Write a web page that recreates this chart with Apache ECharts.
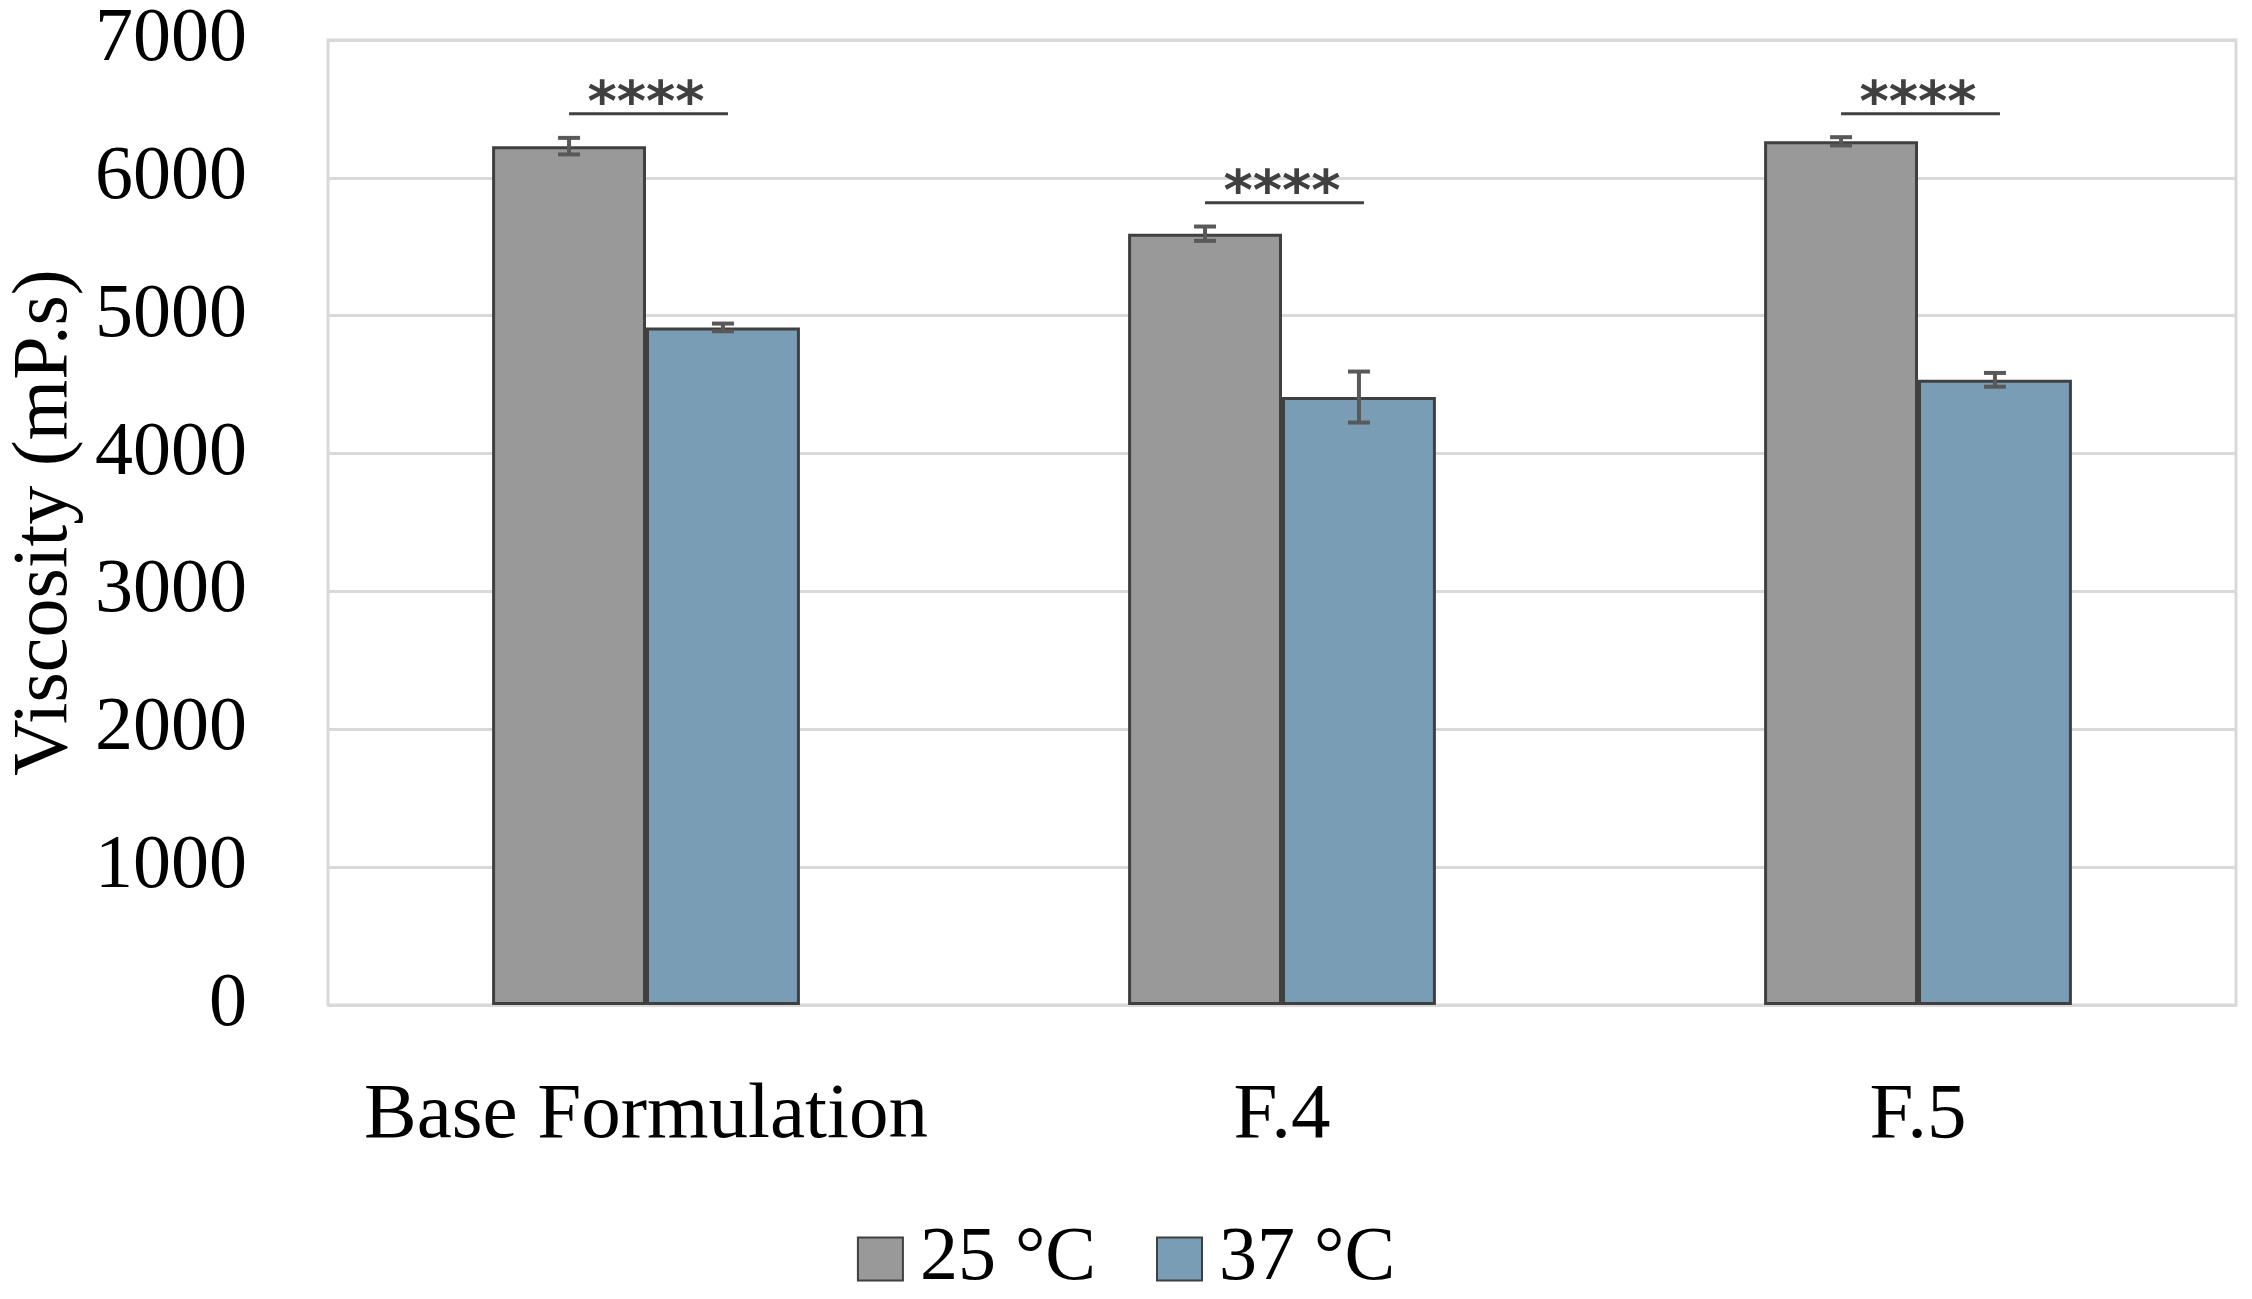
<!DOCTYPE html>
<html><head><meta charset="utf-8">
<script src="https://cdn.jsdelivr.net/npm/echarts@6/dist/echarts.min.js"></script>
<style>html,body{margin:0;padding:0;background:#fff}#c{width:2252px;height:1299px}</style>
</head><body><div id="c"></div>
<script>
const categories = ['Base Formulation', 'F.4', 'F.5'];
const seriesNames = ['25 °C', '37 °C'];
const visc25 = [6230, 5595, 6265];
const err25 = [60, 52, 30];
const visc37 = [4915, 4410, 4535];
const err37 = [28, 185, 50];
const sigLevel = [6465, 5820, 6465];
const sigText = ['****', '****', '****'];
const yMin = 0, yMax = 7000, yInterval = 1000;

const BAR_FRAC = 0.242;
const SERIF = '"Liberation Serif", "Times New Roman", serif';

function errRender(side) {
  return function (params, api) {
    const i = api.value(0), v = api.value(1), e = api.value(2);
    const band = api.size([1, 0])[0];
    const off = side * band * BAR_FRAC / 2;
    const hi = api.coord([i, v + e]), lo = api.coord([i, v - e]);
    const x = hi[0] + off, cw = 11;
    const st = { stroke: '#595959', lineWidth: 4 };
    return { type: 'group', children: [
      { type: 'line', shape: { x1: x, y1: hi[1], x2: x, y2: lo[1] }, style: st },
      { type: 'line', shape: { x1: x - cw, y1: hi[1], x2: x + cw, y2: hi[1] }, style: st },
      { type: 'line', shape: { x1: x - cw, y1: lo[1], x2: x + cw, y2: lo[1] }, style: st }
    ]};
  };
}

function sigRender(params, api) {
  const i = api.value(0), y = api.value(1);
  const band = api.size([1, 0])[0];
  const bw = band * BAR_FRAC;
  const p = api.coord([i, y]);
  return { type: 'group', children: [
    { type: 'line', shape: { x1: p[0] - bw / 2, y1: p[1], x2: p[0] + bw / 2 + 5, y2: p[1] },
      style: { stroke: '#404040', lineWidth: 3 } },
    { type: 'text', style: { text: sigText[params.dataIndex], x: p[0], y: p[1] - 8,
      align: 'center', verticalAlign: 'middle', fontSize: 56, fontWeight: 'bold',
      fontFamily: '"DejaVu Sans", sans-serif', fill: '#404040' } }
  ]};
}

const chart = echarts.init(document.getElementById('c'));
chart.setOption({
  animation: false,
  backgroundColor: '#fff',
  grid: { left: 328, right: 16, top: 40, bottom: 294, show: true, borderColor: '#d9d9d9', borderWidth: 3,
    containLabel: false, outerBoundsMode: 'none' },
  legend: {
    top: 1216, left: 'center', itemWidth: 45, itemHeight: 43, itemGap: 60, icon: 'rect',
    data: seriesNames,
    textStyle: { fontSize: 76, fontFamily: SERIF, color: '#000', padding: [0, 0, 0, 12] }
  },
  xAxis: {
    type: 'category', data: categories,
    axisLine: { show: false }, axisTick: { show: false },
    axisLabel: { fontSize: 79, fontFamily: SERIF, color: '#000', margin: 72, interval: 0 }
  },
  yAxis: {
    type: 'value', min: yMin, max: yMax, interval: yInterval,
    name: 'Viscosity (mP.s)', nameLocation: 'middle', nameGap: 240,
    nameTextStyle: { fontSize: 78, fontFamily: SERIF, color: '#000' },
    axisLine: { show: false }, axisTick: { show: false },
    axisLabel: { fontSize: 76, fontFamily: SERIF, color: '#000', margin: 81, formatter: v => String(v) },
    splitLine: { lineStyle: { color: '#d9d9d9', width: 3 } }
  },
  series: [
    { name: seriesNames[0], type: 'bar', data: visc25, barWidth: (BAR_FRAC * 100) + '%', barGap: '0%',
      itemStyle: { color: '#999999', borderColor: '#404040', borderWidth: 3 } },
    { name: seriesNames[1], type: 'bar', data: visc37, barWidth: (BAR_FRAC * 100) + '%', barGap: '0%',
      itemStyle: { color: '#7a9db6', borderColor: '#404040', borderWidth: 3 } },
    { type: 'custom', renderItem: errRender(-1), z: 5,
      data: categories.map((c, i) => [i, visc25[i], err25[i]]) },
    { type: 'custom', renderItem: errRender(1), z: 5,
      data: categories.map((c, i) => [i, visc37[i], err37[i]]) },
    { type: 'custom', renderItem: sigRender, z: 5,
      data: categories.map((c, i) => [i, sigLevel[i]]) }
  ]
});
</script></body></html>
